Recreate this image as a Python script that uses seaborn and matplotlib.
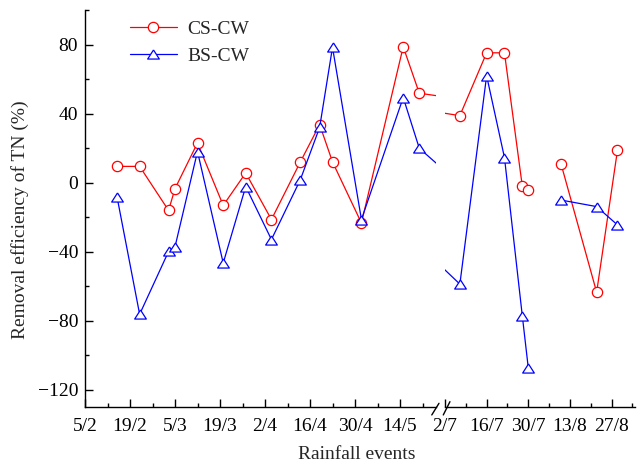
import numpy as np
import pandas as pd
import seaborn as sns
import matplotlib
matplotlib.use('Agg')
import matplotlib.pyplot as plt
import matplotlib.colors as mcolors
from matplotlib.lines import Line2D
from matplotlib.ticker import MultipleLocator, FixedLocator

# rainfall event dates, counted in days from 5/2
event_day = [10, 17, 26, 28, 35, 43, 50, 58, 67, 73, 77, 86, 99, 104,
             152, 161, 167, 173, 175, 186, 198, 205]
# no line between 30/7 and the August events
segment = [1] * 19 + [2] * 3
cs_cw = [9.4, 9.4, -16.1, -3.5, 23.0, -13.2, 5.6, -21.4, 12.0, 33.6, 12.0, -23.4,
         78.7, 51.8, 38.8, 75.2, 75.2, -2.1, -4.5, 11.0, -63.5, 18.7]
bs_cw = [-8.6, -76.3, -39.9, -37.2, 18.0, -46.6, -2.3, -33.0, 1.7, 32.0, 78.4, -21.4,
         49.3, 19.9, -58.8, 61.9, 14.5, -77.2, -107.2, -10.1, -13.9, -24.5]

left_ticks = [0, 14, 28, 42, 56, 70, 84, 98]
left_labels = ['5/2', '19/2', '5/3', '19/3', '2/4', '16/4', '30/4', '14/5']
right_ticks = [147, 161, 175, 189, 203]
right_labels = ['2/7', '16/7', '30/7', '13/8', '27/8']

sns.set_style('ticks')
plt.rcParams['font.family'] = ['Liberation Serif', 'DejaVu Serif']
plt.rcParams['font.size'] = 14
plt.rcParams['axes.unicode_minus'] = True

n = len(event_day)
df = pd.DataFrame({
    'day': event_day * 2,
    'value': cs_cw + bs_cw,
    'system': ['CS-CW'] * n + ['BS-CW'] * n,
    'segment': segment * 2,
})

palette = {'CS-CW': '#ff0000', 'BS-CW': '#0000ff'}
tri = [(0, 0.78), (-1, -0.78), (1, -0.78), (0, 0.78)]
markers = {'CS-CW': 'o', 'BS-CW': tri}
msize = {'CS-CW': 7.4, 'BS-CW': 8.4}

fig = plt.figure(figsize=(6.4, 4.65), dpi=100)
ax1 = fig.add_axes([85 / 640, 58 / 465, 351 / 640, 397 / 465])
ax2 = fig.add_axes([445 / 640, 58 / 465, 190 / 640, 397 / 465], sharey=ax1)

for ax in (ax1, ax2):
    sns.lineplot(data=df, x='day', y='value', hue='system', style='system',
                 units='segment', estimator=None, palette=palette,
                 markers=markers, dashes=False, lw=0.9, mfc='white',
                 ax=ax, legend=False)
    for line in ax.lines:
        c = mcolors.to_hex(line.get_color())
        line.set_markeredgecolor(c)
        line.set_markeredgewidth(0.9)
        line.set_markersize(msize['CS-CW'] if c == '#ff0000' else msize['BS-CW'])
    ax.set_xlabel('')
    ax.set_ylabel('')
    for s in ['top', 'right']:
        ax.spines[s].set_visible(False)
    for s in ['left', 'bottom']:
        ax.spines[s].set_color('k')
        ax.spines[s].set_linewidth(1)
    ax.tick_params(which='major', direction='in', length=5.5, width=1,
                   labelsize=14, pad=5, colors='k')
    ax.tick_params(which='minor', direction='in', length=3, width=1, colors='k')
    ax.tick_params(axis='x', which='major', pad=8)

ax1.set_xlim(0, 109.2)
ax2.set_xlim(147, 210.9)
ax1.set_ylim(-130, 100)
ax1.set_xticks(left_ticks, left_labels)
ax1.xaxis.set_minor_locator(FixedLocator([t + 7 for t in left_ticks]))
ax2.set_xticks(right_ticks, right_labels)
ax2.xaxis.set_minor_locator(FixedLocator([t + 7 for t in right_ticks]))
ax1.yaxis.set_major_locator(MultipleLocator(40))
ax1.yaxis.set_minor_locator(MultipleLocator(20))
ax2.spines['left'].set_visible(False)
ax2.tick_params(axis='y', which='both', left=False, labelleft=False)

# axis break marks
kw = dict(color='k', lw=1, clip_on=False)
ax1.plot([0.988, 1.0085], [-0.020, 0.0093], transform=ax1.transAxes, **kw)
ax2.plot([-0.009, 0.026], [-0.020, 0.0134], transform=ax2.transAxes, **kw)

handles = [Line2D([], [], color=palette[k], marker=markers[k], markersize=msize[k],
                  mfc='white', mec=palette[k], mew=0.9, lw=0.9) for k in palette]
ax1.legend(handles, list(palette), loc='upper left', bbox_to_anchor=(0.128, 0.975),
           frameon=False, borderpad=0, borderaxespad=0, handlelength=2.4,
           handletextpad=0.55, labelspacing=0.5, fontsize=14)

fig.text(20 / 640, 1 - 220 / 465, 'Removal efficiency of TN (%)', rotation=90,
         ha='center', va='center', fontsize=14)
fig.text(357 / 640, 1 - 454 / 465, 'Rainfall events', ha='center', va='center', fontsize=14)

fig.savefig('out.png', dpi=100)
